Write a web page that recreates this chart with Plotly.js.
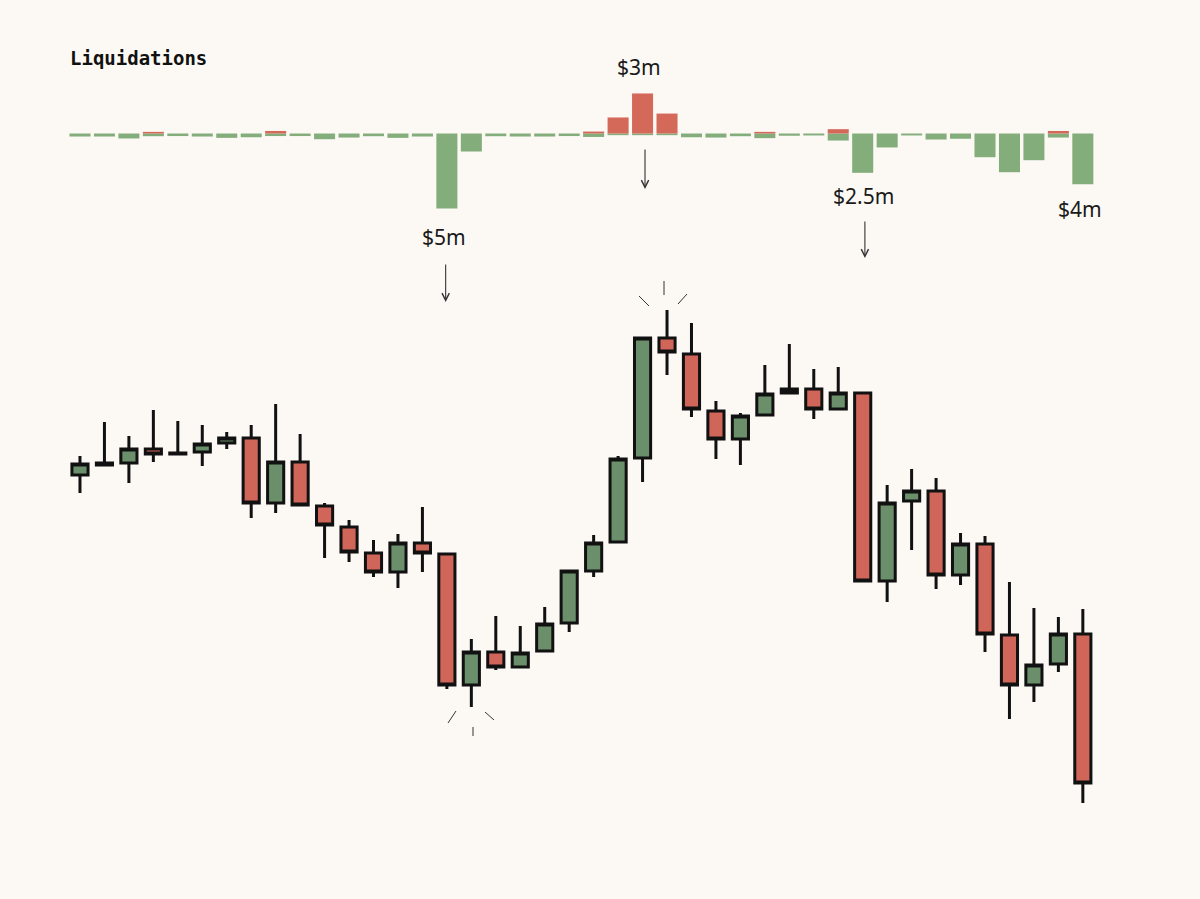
<!DOCTYPE html>
<html>
<head>
<meta charset="utf-8">
<script src="https://cdn.plot.ly/plotly-3.0.1.min.js"></script>
<style>
  html, body { margin: 0; padding: 0; background: #fcf9f5; }
  #chart { width: 1200px; height: 899px; }
</style>
</head>
<body>
<div id="chart"></div>
<script>
// ---- Data ----
const candleIndex = Array.from({length: 42}, (_, i) => i + 1);

const openP  = [424,434,436,450,446,447,456,461,396,437,393,372,346,327,356,345,214,247,232,248,276,328,357,441,561,545,488,460,484,506,510,490,506,318,398,408,324,355,264,214,235,265];
const highP  = [443,477,463,489,478,474,467,474,495,465,396,379,359,365,392,345,260,283,273,292,328,364,443,561,589,576,498,486,534,555,530,532,506,414,430,421,366,363,317,291,282,290];
const lowP   = [406,433,416,437,444,433,450,381,386,394,341,337,322,311,327,210,192,229,232,248,267,322,357,417,524,482,440,434,484,506,480,490,318,297,349,310,314,247,180,197,227, 96];
const closeP = [435,436,450,445,445,455,461,396,437,394,374,347,327,356,346,214,247,232,246,275,328,356,440,561,547,490,460,483,505,510,490,506,318,396,408,324,355,265,214,234,265,116];

// Liquidations in $m : longs (green, drawn downward) and shorts (red, drawn upward)
const longLiq  = [0.20,0.20,0.33,0.18,0.17,0.20,0.29,0.25,0.17,0.17,0.38,0.27,0.18,0.29,0.20,5.00,1.20,0.18,0.20,0.20,0.17,0.23,0.11,0.11,0.11,0.25,0.27,0.18,0.31,0.15,0.13,0.47,2.62,0.93,0.13,0.40,0.35,1.58,2.58,1.78,0.27,3.38];
const shortLiq = [0,0,0,0.11,0,0,0,0,0.17,0,0,0,0,0,0,0,0,0,0,0,0,0.13,1.07,2.67,1.33,0,0,0,0.11,0,0,0.29,0,0,0,0,0,0,0,0,0.17,0];

const callouts = [
  {idx: 15.88, price: 662, text: '$5m'},
  {idx: 23.85, price: 832, text: '$3m'},
  {idx: 33.05, price: 703, text: '$2.5m'},
  {idx: 41.90, price: 690, text: '$4m'}
];
const arrows = [
  {idx: 15.95, tip: 597, len: 39},
  {idx: 24.10, tip: 710, len: 41},
  {idx: 33.09, tip: 641, len: 38}
];

// ---- Styling ----
const BG = '#fcf9f5';
const GREEN = '#6b8f6b', RED = '#d0655a';
const LGREEN = '#84ad7c', LRED = '#d4695a';

const traces = [
  {
    type: 'candlestick',
    x: candleIndex, open: openP, high: highP, low: lowP, close: closeP,
    increasing: {line: {color: '#111111', width: 3}, fillcolor: GREEN},
    decreasing: {line: {color: '#111111', width: 3}, fillcolor: RED},
    whiskerwidth: 0,
    hoverinfo: 'skip',
    xaxis: 'x', yaxis: 'y'
  },
  {
    type: 'bar', x: candleIndex, y: longLiq.map(v => -v),
    marker: {color: LGREEN, line: {width: 0}},
    width: 0.86, xaxis: 'x', yaxis: 'y2', hoverinfo: 'skip'
  },
  {
    type: 'bar', x: candleIndex, y: shortLiq,
    marker: {color: LRED, line: {width: 0}},
    width: 0.86, xaxis: 'x', yaxis: 'y2', hoverinfo: 'skip'
  }
];

const annotations = [
  {
    xref: 'paper', yref: 'paper', x: 68/1200, y: 1 - 58/899,
    xanchor: 'left', yanchor: 'middle', showarrow: false,
    text: '<b>Liquidations</b>',
    font: {family: 'DejaVu Sans Mono', size: 19, color: '#111'}
  }
];
callouts.forEach(c => annotations.push({
  xref: 'x', yref: 'y', x: c.idx, y: c.price, showarrow: false,
  text: c.text, xanchor: 'center', yanchor: 'middle',
  font: {family: 'Noto Sans', size: 21, color: '#1a1a1a'}
}));
arrows.forEach(a => annotations.push({
  xref: 'x', yref: 'y', x: a.idx, y: a.tip, text: '',
  showarrow: true, ax: 0, ay: -a.len, arrowhead: 5, arrowsize: 1.3,
  arrowwidth: 1.1, arrowcolor: '#333'
}));

function seg(x0, y0, x1, y1) {
  return {type: 'line', xref: 'paper', yref: 'paper',
    x0: x0/1200, y0: 1 - y0/899, x1: x1/1200, y1: 1 - y1/899,
    line: {color: '#333', width: 1}};
}
const shapes = [
  seg(456,711,448,723), seg(473,727,473,736), seg(485,712,494,720),
  seg(639,296,649,306), seg(664,281,664,295), seg(687,294,678,304)
];

const layout = {
  width: 1200, height: 899,
  margin: {l: 0, r: 0, t: 0, b: 0},
  paper_bgcolor: BG, plot_bgcolor: BG,
  showlegend: false,
  barmode: 'relative',
  boxgap: 0.34, boxgroupgap: 0,
  xaxis: {range: [-2.27, 46.79], showgrid: false, zeroline: false, showticklabels: false,
          showline: false, rangeslider: {visible: false}, fixedrange: true},
  yaxis: {range: [0, 899], showgrid: false, zeroline: false, showticklabels: false,
          showline: false, fixedrange: true},
  yaxis2: {range: [-51.03, 8.9], overlaying: 'y', showgrid: false, zeroline: false,
           showticklabels: false, showline: false, fixedrange: true},
  annotations: annotations,
  shapes: shapes
};

Plotly.newPlot('chart', traces, layout, {staticPlot: true, displayModeBar: false});
</script>
</body>
</html>
